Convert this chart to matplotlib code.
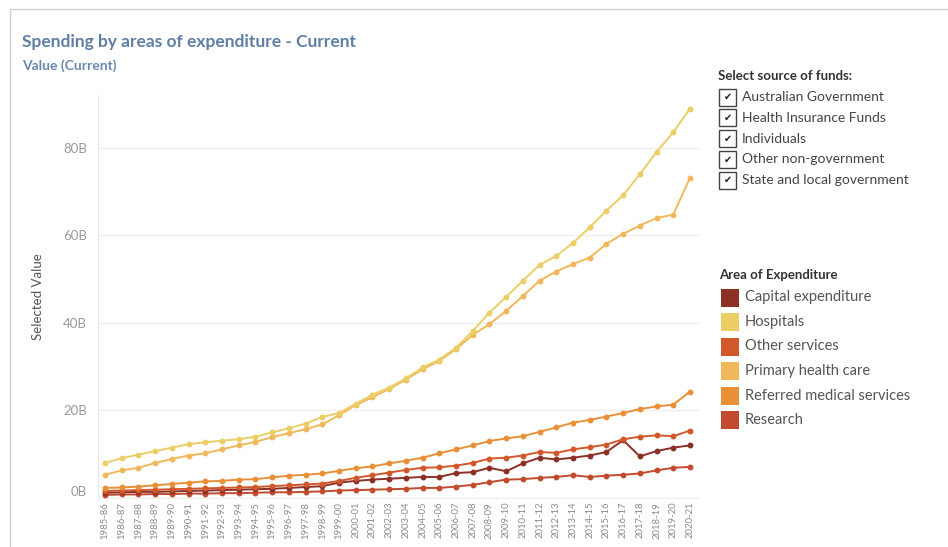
import matplotlib
matplotlib.use("Agg")
import matplotlib.pyplot as plt
from matplotlib.patches import Rectangle
from matplotlib.lines import Line2D

plt.rcParams['font.family'] = ['Lato', 'DejaVu Sans']

W, H = 948, 547

years = ["%d-%02d" % (y, (y + 1) % 100) for y in range(1985, 2021)]

# values in $B
hospitals = [8.0, 9.1, 9.9, 10.7, 11.5, 12.3, 12.7, 13.1, 13.4, 14.0,
             15.0, 15.9, 17.0, 18.5, 19.4, 21.5, 23.6, 25.2, 27.3, 29.8,
             31.6, 34.3, 38.1, 42.3, 45.9, 49.6, 53.2, 55.3, 58.2, 61.8,
             65.6, 69.1, 73.9, 79.0, 83.5, 88.9]
primary = [5.3, 6.3, 6.9, 8.0, 8.9, 9.7, 10.2, 11.1, 12.0, 12.8,
           13.9, 14.8, 15.7, 16.8, 18.9, 21.2, 23.0, 24.9, 27.0, 29.4,
           31.3, 34.0, 37.2, 39.7, 42.7, 46.1, 49.6, 51.7, 53.4, 54.9,
           58.0, 60.3, 62.2, 63.9, 64.7, 73.1]
referred = [2.3, 2.4, 2.6, 2.9, 3.2, 3.5, 3.8, 3.9, 4.2, 4.3,
            4.7, 5.1, 5.3, 5.6, 6.2, 6.8, 7.2, 7.9, 8.5, 9.2,
            10.2, 11.1, 12.0, 13.0, 13.6, 14.1, 15.1, 16.1, 17.2, 17.8,
            18.6, 19.4, 20.3, 20.9, 21.3, 24.3]
other = [1.6, 1.7, 1.8, 1.9, 2.0, 2.1, 2.2, 2.3, 2.4, 2.5,
         2.7, 2.9, 3.1, 3.3, 3.9, 4.6, 5.2, 5.8, 6.4, 6.9,
         7.0, 7.4, 8.0, 9.0, 9.2, 9.7, 10.5, 10.3, 11.1, 11.6,
         12.2, 13.4, 14.0, 14.3, 14.1, 15.4]
capital = [1.2, 1.3, 1.4, 1.4, 1.5, 1.6, 1.7, 1.8, 1.9, 2.0,
           2.1, 2.3, 2.5, 2.7, 3.5, 3.9, 4.2, 4.4, 4.6, 4.8,
           4.8, 5.7, 5.9, 6.9, 6.1, 7.9, 9.2, 8.8, 9.2, 9.7,
           10.5, 13.2, 9.5, 10.7, 11.5, 12.0]
research = [0.7, 0.8, 0.8, 0.9, 0.9, 1.0, 1.0, 1.1, 1.1, 1.2,
            1.3, 1.3, 1.4, 1.5, 1.7, 1.8, 1.9, 2.0, 2.1, 2.3,
            2.3, 2.6, 3.0, 3.6, 4.2, 4.3, 4.6, 4.8, 5.2, 4.8,
            5.1, 5.3, 5.6, 6.3, 6.9, 7.1]

areas = ["Capital expenditure", "Hospitals", "Other services",
         "Primary health care", "Referred medical services", "Research"]
colors = ["#8c2f25", "#ecce66", "#d2582b", "#f1b85b", "#e98f37", "#c24a2f"]
series = [capital, hospitals, other, primary, referred, research]

funds = ["Australian Government", "Health Insurance Funds", "Individuals",
         "Other non-government", "State and local government"]

y_ticks = [0, 20, 40, 60, 80]


def fx(x):
    return x / W


def fy(y):
    return 1 - y / H


fig = plt.figure(figsize=(W / 100, H / 100), dpi=100)

# outer frame
fig.add_artist(Line2D([fx(10), fx(10)], [0, fy(9)], color="#d0d0d0", lw=1))
fig.add_artist(Line2D([fx(10), 1], [fy(9), fy(9)], color="#d0d0d0", lw=1))

ax = fig.add_axes([fx(98), fy(499), fx(700) - fx(98), fy(95) - fy(499)])
x = list(range(len(years)))
order = [5, 0, 2, 4, 3, 1]
for k in order:
    ax.plot(x, series[k], color=colors[k], lw=1.4, marker="o", ms=3.2,
            zorder=3 + order.index(k))

ax.set_xlim(-0.42, 35.6)
ax.set_ylim(-0.23, 92.0)
ax.set_yticks(y_ticks)
ax.set_yticklabels(["%dB" % v for v in y_ticks])
ax.set_xticks(x)
ax.set_xticklabels(years, rotation=90, fontsize=6.8, color="#8a8a8a")
ax.tick_params(axis="y", length=0, pad=8, labelsize=9.5, labelcolor="#9a9a9a")
ax.tick_params(axis="x", length=0, pad=2)
ax.grid(axis="y", color="#efefef", lw=1)
ax.set_axisbelow(True)
for s in ["top", "right", "bottom"]:
    ax.spines[s].set_visible(False)
ax.spines["left"].set_color("#e6e6e6")
ax.yaxis.get_ticklabels()[0].set_verticalalignment("bottom")
ax.set_ylabel("Selected Value", fontsize=9.5, color="#555555", labelpad=14)

# titles
fig.text(fx(22), fy(42), "Spending by areas of expenditure - Current",
         fontsize=12.5, fontweight="bold", color="#5f7fa6", va="center")
fig.text(fx(22), fy(66), "Value (Current)", fontsize=10,
         fontweight="bold", color="#6a88ad", va="center")

# source of funds checkboxes
fig.text(fx(718), fy(76), "Select source of funds:", fontsize=9.5,
         fontweight="bold", color="#333333", va="center")
for i, name in enumerate(funds):
    yc = 97 + i * 20.8
    fig.add_artist(Rectangle((fx(719), fy(yc + 8.5)), fx(17), 17 / H,
                             fill=False, ec="#444444", lw=1,
                             transform=fig.transFigure))
    fig.text(fx(727.5), fy(yc), "\u2714", fontsize=7, color="#222222",
             ha="center", va="center", family="DejaVu Sans")
    fig.text(fx(742), fy(yc), name, fontsize=10, color="#444444",
             va="center")

# area legend
fig.text(fx(719), fy(275), "Area of Expenditure", fontsize=9.5,
         fontweight="bold", color="#333333", va="center")
for i, name in enumerate(areas):
    yc = 297.5 + i * 24.5
    fig.add_artist(Rectangle((fx(721), fy(yc + 9)), fx(18), 18 / H,
                             fc=colors[i], ec="none",
                             transform=fig.transFigure))
    fig.text(fx(745), fy(yc), name, fontsize=10.5, color="#555555",
             va="center")

fig.savefig("out.png", dpi=100)
